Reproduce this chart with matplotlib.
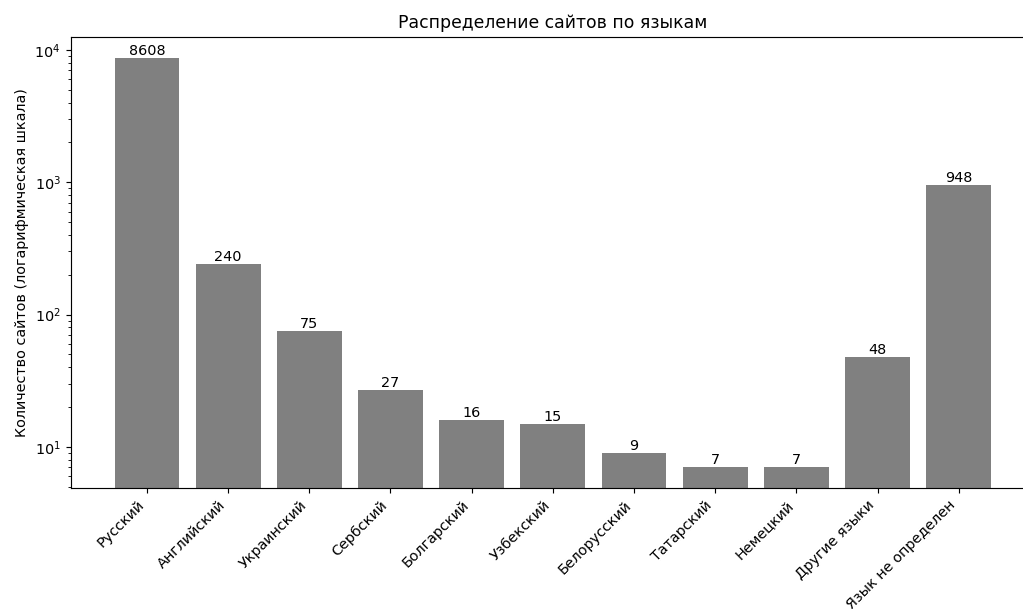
import matplotlib.pyplot as plt

languages = ["Русский", "Английский", "Украинский", "Сербский", "Болгарский", "Узбекский",
             "Белорусский", "Татарский", "Немецкий", "Другие языки", "Язык не определен"]
counts = [8608, 240, 75, 27, 16, 15, 9, 7, 7, 48, 948]


def main():
    dpi = 103.5
    fig = plt.figure(figsize=(1023 / dpi, 609 / dpi), dpi=dpi)
    ax = fig.add_axes([0.0691, 0.1987, 0.9426, 0.7405])

    bars = ax.bar(languages, counts, color="gray", width=0.8)
    ax.set_yscale("log")
    ax.set_ylim(4.9, 12500)
    ax.set_xlim(-0.94, 10.94)
    ax.bar_label(bars, labels=[str(c) for c in counts], padding=0, fontsize=10)

    ax.set_title("Распределение сайтов по языкам", fontsize=12)
    ax.set_ylabel("Количество сайтов (логарифмическая шкала)")
    plt.setp(ax.get_xticklabels(), rotation=45, ha="right")

    fig.savefig("out.png", dpi=dpi)


if __name__ == "__main__":
    main()
